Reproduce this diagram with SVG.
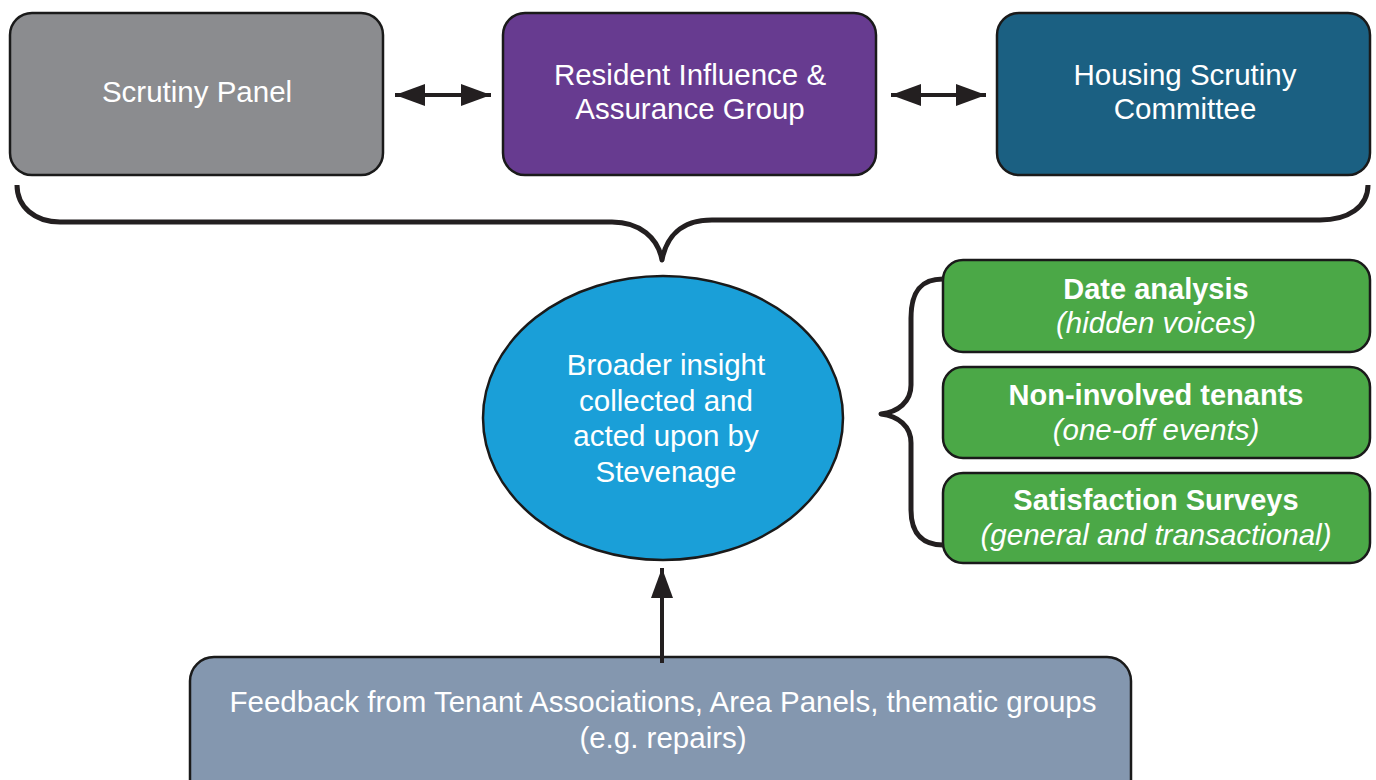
<svg xmlns="http://www.w3.org/2000/svg" width="1376" height="780" viewBox="0 0 1376 780">
<defs>
<style>
.box{stroke:#1a1a1a;stroke-width:2.5}
.t{font-family:"Liberation Sans",Arial,Helvetica,sans-serif;font-size:29.5px;fill:#ffffff;text-anchor:middle}
.b{font-weight:bold;font-size:29px}
.i{font-style:italic}
.line{fill:none;stroke:#231f20;stroke-width:4}
.brace{fill:none;stroke:#231f20;stroke-width:5;stroke-linejoin:round}
</style>
<marker id="ah" viewBox="0 0 30 22" refX="30" refY="11" markerWidth="30" markerHeight="22" markerUnits="userSpaceOnUse" orient="auto-start-reverse">
<path d="M0,0 L30,11 L0,22 Z" fill="#231f20"/>
</marker>
</defs>
<rect width="1376" height="780" fill="#ffffff"/>

<g id="scrutiny-panel">
<rect class="box" x="10" y="13" width="373" height="162" rx="22" fill="#8b8c8f"/>
<text class="t" x="197" y="102">Scrutiny Panel</text>
</g>
<g id="resident-influence">
<rect class="box" x="503" y="13" width="373" height="162" rx="22" fill="#673b90"/>
<text class="t" x="690" y="85">Resident Influence &amp;</text>
<text class="t" x="690" y="119">Assurance Group</text>
</g>
<g id="housing-scrutiny">
<rect class="box" x="997" y="13" width="373" height="162" rx="22" fill="#1b6082"/>
<text class="t" x="1185" y="85">Housing Scrutiny</text>
<text class="t" x="1185" y="119">Committee</text>
</g>
<g id="broader-insight">
<ellipse class="box" cx="663" cy="418" rx="180" ry="142" fill="#1a9fd8"/>
<text class="t" x="666" y="375">Broader insight</text>
<text class="t" x="666" y="411">collected and</text>
<text class="t" x="666" y="446">acted upon by</text>
<text class="t" x="666" y="482">Stevenage</text>
</g>
<g id="date-analysis">
<rect class="box" x="943" y="260" width="427" height="92" rx="20" fill="#4ba847"/>
<text class="t b" x="1156" y="299">Date analysis</text>
<text class="t i" x="1156" y="333">(hidden voices)</text>
</g>
<g id="non-involved">
<rect class="box" x="943" y="367" width="427" height="91" rx="20" fill="#4ba847"/>
<text class="t b" x="1156" y="405">Non-involved tenants</text>
<text class="t i" x="1156" y="440">(one-off events)</text>
</g>
<g id="satisfaction">
<rect class="box" x="943" y="473" width="427" height="90" rx="20" fill="#4ba847"/>
<text class="t b" x="1156" y="510">Satisfaction Surveys</text>
<text class="t i" x="1156" y="545">(general and transactional)</text>
</g>
<g id="feedback">
<rect class="box" x="190" y="657" width="941" height="160" rx="24" fill="#8497af"/>
<text class="t" x="663" y="712">Feedback from Tenant Associations, Area Panels, thematic groups</text>
<text class="t" x="663" y="748">(e.g. repairs)</text>
</g>

<g id="connectors">
<line class="line" x1="395" y1="95" x2="491" y2="95" marker-start="url(#ah)" marker-end="url(#ah)"/>
<line class="line" x1="891" y1="95" x2="986" y2="95" marker-start="url(#ah)" marker-end="url(#ah)"/>
<line class="line" x1="662" y1="663" x2="662" y2="568" marker-end="url(#ah)"/>
<path class="brace" d="M17,185 C17,207 35,222 60,222 L612,222 C640,222 658,238 662,260 C666,238 680,220 712,220 L1320,220 C1348,220 1368,207 1368,185"/>
<path class="brace" d="M943,279 C925,279 911,287 911,318 L911,385 C911,402 898,412 881,414 C898,416 911,426 911,443 L911,510 C911,536 925,545 943,545"/>
</g>
</svg>
